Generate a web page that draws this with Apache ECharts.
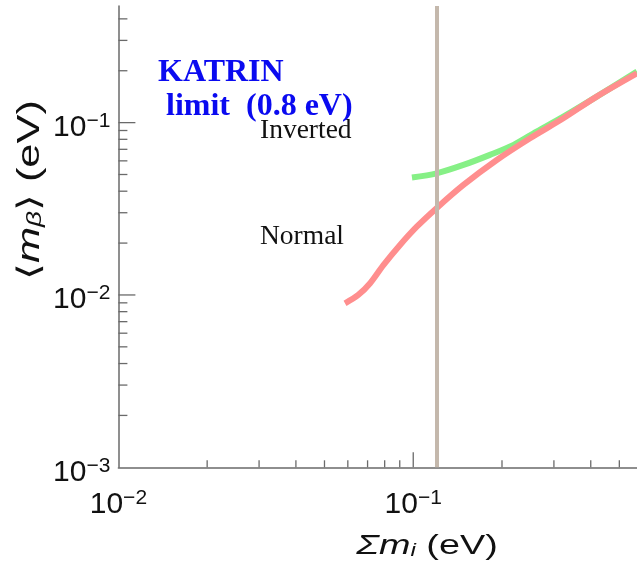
<!DOCTYPE html>
<html>
<head>
<meta charset="utf-8">
<script src="https://cdn.jsdelivr.net/npm/echarts@6/dist/echarts.min.js"></script>
<style>
html,body{margin:0;padding:0;background:#fff;}
#chart{width:637px;height:567px;}
</style>
</head>
<body>
<div id="chart"></div>
<script>
// ---- data ----
const invertedX = [0.099, 0.120, 0.148, 0.182, 0.219, 0.262, 0.323, 0.419, 0.574];
const invertedY = [0.048, 0.0508, 0.0568, 0.065, 0.0743, 0.0887, 0.1083, 0.1415, 0.1977];
const normalX = [0.0587, 0.0651, 0.0714, 0.0792, 0.0902, 0.1028, 0.1202, 0.148, 0.192, 0.249, 0.323, 0.419, 0.574];
const normalY = [0.00895, 0.0100, 0.0117, 0.0149, 0.0195, 0.0249, 0.0320, 0.0435, 0.0607, 0.0812, 0.106, 0.1415, 0.193];
const katrinLimitX = [0.12];
const xMajorTicks = [0.1];
const xMinorTicks = [0.02, 0.03, 0.04, 0.05, 0.06, 0.07, 0.08, 0.09, 0.2, 0.3, 0.4, 0.5];
const yMajorTicks = [0.01, 0.1];
const yMinorTicks = [0.002, 0.003, 0.004, 0.005, 0.006, 0.007, 0.008, 0.009,
                     0.02, 0.03, 0.04, 0.05, 0.06, 0.07, 0.08, 0.09, 0.2, 0.3, 0.4];
const xMin = 0.01, xMax = 0.574, yMin = 0.001, yMax = 0.475;

const chart = echarts.init(document.getElementById('chart'));
const zip = (a, b) => a.map((v, i) => [v, b[i]]);
const SANS = 'Liberation Sans, Arial, Helvetica, sans-serif';
const SERIF = '"Liberation Serif", "Times New Roman", serif';

function powLabel(v) {
  const e = Math.log10(v);
  if (Math.abs(e - Math.round(e)) > 1e-6) return '';
  const n = Math.round(e);
  return '{b|10}{s|' + (n < 0 ? '\u2212' + (-n) : n) + '}';
}
const labelRich = {
  b: {fontSize: 30, fontFamily: SANS, color: '#111', lineHeight: 34},
  s: {fontSize: 21, fontFamily: SANS, color: '#111', lineHeight: 21, verticalAlign: 'top'}
};
const axisLineStyle = {color: '#6a6a6a', width: 1.5};
const tickColor = '#6a6a6a';

function tickSeries(data, isX, len) {
  return {
    type: 'custom',
    silent: true,
    clip: false,
    z: 1,
    data: data.map(v => isX ? [v, yMin] : [xMin, v]),
    renderItem: function (params, api) {
      const p = api.coord([api.value(0), api.value(1)]);
      return {
        type: 'line',
        shape: isX ? {x1: p[0], y1: p[1], x2: p[0], y2: p[1] - len}
                   : {x1: p[0], y1: p[1], x2: p[0] + len, y2: p[1]},
        style: {stroke: tickColor, lineWidth: 1.3}
      };
    }
  };
}

chart.setOption({
  backgroundColor: '#ffffff',
  animation: false,
  grid: {left: 118.4, right: 0, top: 6, bottom: 99.7, containLabel: false},
  xAxis: {
    type: 'log', logBase: 10, min: xMin, max: xMax,
    axisLine: {show: true, lineStyle: axisLineStyle},
    axisTick: {show: false},
    splitLine: {show: false},
    axisLabel: {formatter: powLabel, margin: 20, rich: labelRich, showMaxLabel: false}
  },
  yAxis: {
    type: 'log', logBase: 10, min: yMin, max: yMax,
    axisLine: {show: true, lineStyle: axisLineStyle},
    axisTick: {show: false},
    splitLine: {show: false},
    axisLabel: {formatter: powLabel, margin: 8, rich: labelRich, showMaxLabel: false, padding: [10, 0, 0, 0]}
  },
  graphic: [
    {type: 'text', x: 30, y: 190, rotation: Math.PI / 2, scaleX: 1.4, z: 10,
     style: {text: '{t|\u27E8}{m|m}{sub|\u03B2}{t|\u27E9 (eV)}', align: 'center', verticalAlign: 'middle',
       rich: {
         t: {fontSize: 31, fontFamily: SANS, fill: '#111'},
         m: {fontSize: 31, fontStyle: 'italic', fontFamily: SANS, fill: '#111'},
         sub: {fontSize: 20, fontStyle: 'italic', fontFamily: SANS, fill: '#111', verticalAlign: 'bottom'}
       }}},
    {type: 'text', x: 427, y: 546, scaleX: 1.35, z: 10,
     style: {text: '{m|\u03A3m}{sub|i}{t| (eV)}', align: 'center', verticalAlign: 'middle',
       rich: {
         t: {fontSize: 28, fontFamily: SANS, fill: '#111'},
         m: {fontSize: 28, fontStyle: 'italic', fontFamily: SANS, fill: '#111'},
         sub: {fontSize: 18, fontStyle: 'italic', fontFamily: SANS, fill: '#111', verticalAlign: 'bottom'}
       }}},
    {type: 'text', x: 260, y: 131, z: 10,
     style: {text: 'Inverted', fill: '#111', font: '27.5px ' + SERIF, verticalAlign: 'middle'}},
    {type: 'text', x: 260, y: 237, z: 10,
     style: {text: 'Normal', fill: '#111', font: '27.5px ' + SERIF, verticalAlign: 'middle'}},
    {type: 'text', x: 158, y: 73, z: 11,
     style: {text: 'KATRIN', fill: '#0a0af0', font: 'bold 32px ' + SERIF, verticalAlign: 'middle'}},
    {type: 'text', x: 166, y: 107, z: 11,
     style: {text: 'limit  (0.8 eV)', fill: '#0a0af0', font: 'bold 32px ' + SERIF, verticalAlign: 'middle'}}
  ],
  series: [
    {
      name: 'Normal', type: 'line', data: zip(normalX, normalY), smooth: 0.3,
      showSymbol: false, z: 3,
      lineStyle: {color: '#ff8e8e', width: 6}
    },
    {
      name: 'Inverted', type: 'line', data: zip(invertedX, invertedY), smooth: 0.3,
      showSymbol: false, z: 2,
      lineStyle: {color: '#86f086', width: 6}
    },
    {
      name: 'KATRIN limit', type: 'line', data: [], z: 4,
      markLine: {
        silent: true, symbol: 'none', label: {show: false},
        lineStyle: {color: '#c4b8ac', width: 4, type: 'solid'},
        data: katrinLimitX.map(v => ({xAxis: v}))
      }
    },
    tickSeries(xMajorTicks, true, 15),
    tickSeries(xMinorTicks, true, 7),
    tickSeries(yMajorTicks, false, 17),
    tickSeries(yMinorTicks, false, 9)
  ]
});
</script>
</body>
</html>
